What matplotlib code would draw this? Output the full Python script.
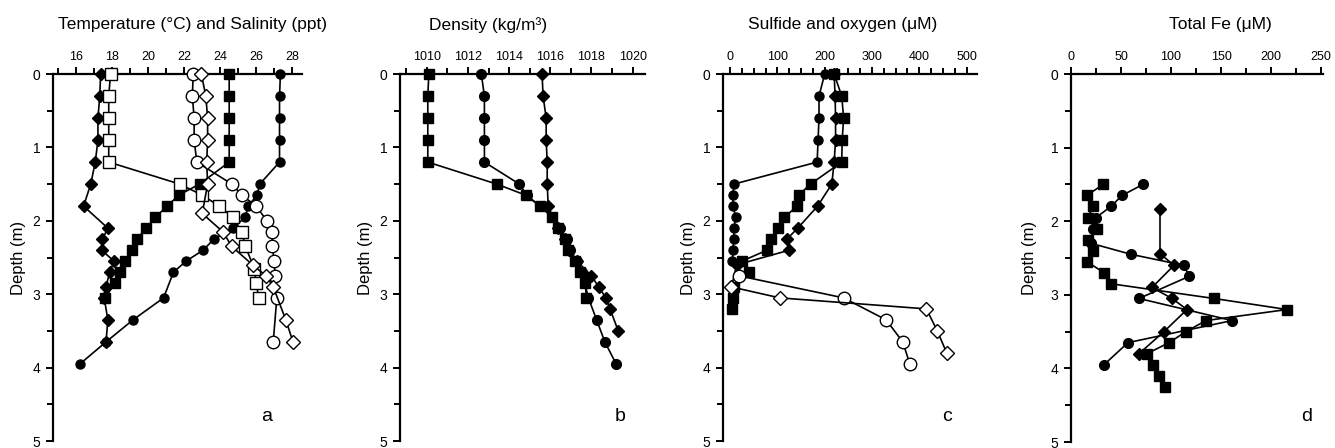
"""Depth profiles: temperature/salinity, density, sulfide/oxygen and total Fe."""

import matplotlib
matplotlib.use("Agg")
import matplotlib.pyplot as plt
from matplotlib.ticker import MultipleLocator

plt.rcParams["font.family"] = ["Liberation Sans", "DejaVu Sans"]

# Panel a: temperature and salinity (same axis)
a_fcircle_depth = [0, 0.3, 0.6, 0.9, 1.2, 1.5, 1.65, 1.8, 1.95, 2.1, 2.25, 2.4, 2.55, 2.7, 3.05, 3.35, 3.65, 3.95]
a_fcircle_val = [27.35, 27.3, 27.3, 27.3, 27.3, 26.2, 26.05, 25.55, 25.4, 24.7, 23.65, 23.05, 22.1, 21.4, 20.85, 19.15, 17.65, 16.2]
a_fsquare_depth = [0, 0.3, 0.6, 0.9, 1.2, 1.5, 1.65, 1.8, 1.95, 2.1, 2.25, 2.4, 2.55, 2.7, 2.85, 3.05]
a_fsquare_val = [24.5, 24.5, 24.5, 24.5, 24.5, 22.85, 21.7, 21.05, 20.4, 19.9, 19.35, 19.1, 18.7, 18.45, 18.15, 17.6]
a_fdiamond_depth = [0, 0.3, 0.6, 0.9, 1.2, 1.5, 1.8, 2.1, 2.25, 2.4, 2.55, 2.7, 2.9, 3.05, 3.35, 3.65]
a_fdiamond_val = [17.35, 17.3, 17.2, 17.2, 17.05, 16.8, 16.4, 17.75, 17.45, 17.4, 18.1, 17.85, 17.65, 17.55, 17.75, 17.65]
a_osquare_depth = [0, 0.3, 0.6, 0.9, 1.2, 1.5, 1.65, 1.8, 1.95, 2.15, 2.35, 2.65, 2.85, 3.05]
a_osquare_val = [17.9, 17.8, 17.8, 17.8, 17.8, 21.75, 23.0, 23.95, 24.7, 25.2, 25.4, 25.9, 26.0, 26.15]
a_ocircle_depth = [0, 0.3, 0.6, 0.9, 1.2, 1.5, 1.65, 1.8, 2.0, 2.15, 2.35, 2.55, 2.75, 3.05, 3.65]
a_ocircle_val = [22.5, 22.45, 22.55, 22.55, 22.7, 24.65, 25.2, 26.0, 26.6, 26.9, 26.9, 27.0, 27.05, 27.15, 26.95]
a_odiamond_depth = [0, 0.3, 0.6, 0.9, 1.2, 1.5, 1.9, 2.15, 2.35, 2.6, 2.75, 2.9, 3.35, 3.65]
a_odiamond_val = [22.95, 23.2, 23.3, 23.3, 23.25, 23.3, 23.0, 24.15, 24.65, 25.8, 26.55, 26.95, 27.65, 28.05]

# Panel b: density
b_square_depth = [0, 0.3, 0.6, 0.9, 1.2, 1.5, 1.65, 1.8, 1.95, 2.1, 2.25, 2.4, 2.55, 2.7, 2.85, 3.05]
b_square_val = [1010.1, 1010.05, 1010.05, 1010.05, 1010.05, 1013.4, 1014.8, 1015.5, 1016.1, 1016.35, 1016.7, 1016.85, 1017.2, 1017.45, 1017.7, 1017.75]
b_circle_depth = [0, 0.3, 0.6, 0.9, 1.2, 1.5, 1.65, 1.8, 1.95, 2.1, 2.25, 2.4, 2.55, 2.7, 3.05, 3.35, 3.65, 3.95]
b_circle_val = [1012.65, 1012.8, 1012.8, 1012.8, 1012.8, 1014.5, 1014.85, 1015.5, 1016.1, 1016.45, 1016.8, 1016.95, 1017.3, 1017.55, 1017.85, 1018.25, 1018.65, 1019.2]
b_diamond_depth = [0, 0.3, 0.6, 0.9, 1.2, 1.5, 1.8, 2.1, 2.25, 2.4, 2.55, 2.75, 2.9, 3.05, 3.2, 3.5]
b_diamond_val = [1015.6, 1015.65, 1015.8, 1015.8, 1015.85, 1015.85, 1015.9, 1016.35, 1016.7, 1016.9, 1017.3, 1018.0, 1018.35, 1018.7, 1018.9, 1019.3]

# Panel c: sulfide and oxygen
c_fcircle_depth = [0, 0.3, 0.6, 0.9, 1.2, 1.5, 1.65, 1.8, 1.95, 2.1, 2.25, 2.4, 2.55]
c_fcircle_val = [200, 188, 188, 186, 184, 8, 6, 6, 12, 8, 8, 6, 5]
c_fsquare_depth = [0, 0.3, 0.6, 0.9, 1.2, 1.5, 1.65, 1.8, 1.95, 2.1, 2.25, 2.4, 2.55, 2.7, 2.9, 3.05, 3.2]
c_fsquare_val = [220, 236, 240, 237, 236, 170, 145, 142, 115, 102, 86, 78, 25, 40, 8, 6, 3]
c_fdiamond_depth = [0, 0.3, 0.6, 0.9, 1.2, 1.5, 1.8, 2.1, 2.25, 2.4, 2.6, 2.9]
c_fdiamond_val = [220, 222, 223, 223, 220, 215, 185, 143, 120, 125, 14, 3]
c_ocircle_depth = [2.75, 3.05, 3.35, 3.65, 3.95]
c_ocircle_val = [19, 240, 330, 365, 380]
c_odiamond_depth = [2.9, 3.05, 3.2, 3.5, 3.8]
c_odiamond_val = [2, 105, 415, 438, 458]

# Panel d: total Fe
d_square_depth = [1.5, 1.65, 1.8, 1.95, 2.1, 2.25, 2.4, 2.55, 2.7, 2.85, 3.05, 3.2, 3.35, 3.5, 3.65, 3.8, 3.95, 4.1, 4.25]
d_square_val = [32, 16, 22, 17, 26, 17, 22, 16, 33, 40, 143, 216, 135, 115, 98, 76, 82, 88, 94]
d_circle_depth = [1.5, 1.65, 1.8, 1.95, 2.1, 2.3, 2.45, 2.6, 2.75, 3.05, 3.35, 3.65, 3.95]
d_circle_val = [72, 51, 40, 25, 22, 20, 60, 113, 118, 68, 161, 57, 33]
d_diamond_depth = [1.83, 2.44, 2.6, 2.9, 3.05, 3.2, 3.5, 3.8]
d_diamond_val = [89, 89, 103, 81, 101, 116, 93, 68]

W, H = 1335, 448
fig = plt.figure(figsize=(W / 100, H / 100), dpi=100)


def add_panel(left_px, right_px, bottom_px=441):
    # axes placed in pixel coordinates of the reference
    return fig.add_axes([left_px / W, 1 - bottom_px / H, (right_px - left_px) / W, (bottom_px - 74) / H])


def style(ax, xlim, major, minor):
    ax.set_xlim(xlim)
    ax.set_ylim(5, 0)
    ax.xaxis.tick_top()
    ax.spines["right"].set_visible(False)
    ax.spines["bottom"].set_visible(False)
    ax.spines["top"].set_linewidth(1.6)
    ax.spines["left"].set_linewidth(1.6)
    ax.xaxis.set_major_locator(MultipleLocator(major))
    ax.xaxis.set_minor_locator(MultipleLocator(minor))
    ax.yaxis.set_major_locator(MultipleLocator(1))
    ax.yaxis.set_minor_locator(MultipleLocator(0.5))
    ax.tick_params(which="both", direction="out", width=1.4, top=True, left=True)
    ax.tick_params(axis="x", which="major", length=5, labelsize=9, pad=3)
    ax.tick_params(axis="y", which="major", length=5, labelsize=10, pad=4)
    ax.tick_params(which="minor", length=4)
    ax.set_facecolor("none")


def profile(ax, x, y, marker, filled, ms, lw=1.2):
    ax.plot(x, y, "-", color="black", lw=lw, marker=marker, ms=ms,
            mfc="black" if filled else "white", mec="black", mew=1.0,
            zorder=4 if filled else 5, clip_on=False)


# Panel a
ax = add_panel(53, 302)
style(ax, (14.7, 28.55), 2, 1)
profile(ax, a_fcircle_val, a_fcircle_depth, "o", True, 6.5)
profile(ax, a_fsquare_val, a_fsquare_depth, "s", True, 6.5)
profile(ax, a_fdiamond_val, a_fdiamond_depth, "D", True, 6)
profile(ax, a_osquare_val, a_osquare_depth, "s", False, 8)
profile(ax, a_ocircle_val, a_ocircle_depth, "o", False, 9)
profile(ax, a_odiamond_val, a_odiamond_depth, "D", False, 7.5)
ax.set_ylabel("Depth (m)", fontsize=12, labelpad=5)

# Panel b
ax = add_panel(400, 645)
style(ax, (1008.7, 1020.6), 2, 1)
profile(ax, b_square_val, b_square_depth, "s", True, 6.5)
profile(ax, b_circle_val, b_circle_depth, "o", True, 7)
profile(ax, b_diamond_val, b_diamond_depth, "D", True, 6)
ax.set_ylabel("Depth (m)", fontsize=12, labelpad=5)

# Panel c
ax = add_panel(723, 977)
style(ax, (-15, 522), 100, 25)
profile(ax, c_fcircle_val, c_fcircle_depth, "o", True, 6.5)
profile(ax, c_fsquare_val, c_fsquare_depth, "s", True, 6.5)
profile(ax, c_fdiamond_val, c_fdiamond_depth, "D", True, 6)
profile(ax, c_ocircle_val, c_ocircle_depth, "o", False, 9)
profile(ax, c_odiamond_val, c_odiamond_depth, "D", False, 7.5)
ax.set_ylabel("Depth (m)", fontsize=12, labelpad=5)

# Panel d
ax = add_panel(1071, 1323, bottom_px=442)
style(ax, (0, 252), 50, 25)
profile(ax, d_square_val, d_square_depth, "s", True, 7)
profile(ax, d_circle_val, d_circle_depth, "o", True, 7)
profile(ax, d_diamond_val, d_diamond_depth, "D", True, 6)
ax.set_ylabel("Depth (m)", fontsize=12, labelpad=10)

# Titles and panel letters placed in figure pixels
titles = ["Temperature (°C) and Salinity (ppt)", "Density (kg/m³)", "Sulfide and oxygen (μM)", "Total Fe (μM)"]
title_x = [192, 488, 843, 1220]
for t, tx in zip(titles, title_x):
    fig.text(tx / W, 1 - 25 / H, t, ha="center", va="center", fontsize=12.5)

letters = ["a", "b", "c", "d"]
letter_x = [267, 620, 947, 1307]
for l, lx in zip(letters, letter_x):
    fig.text(lx / W, 1 - 416 / H, l, ha="center", va="center", fontsize=14)

fig.savefig("out.png", dpi=100)
